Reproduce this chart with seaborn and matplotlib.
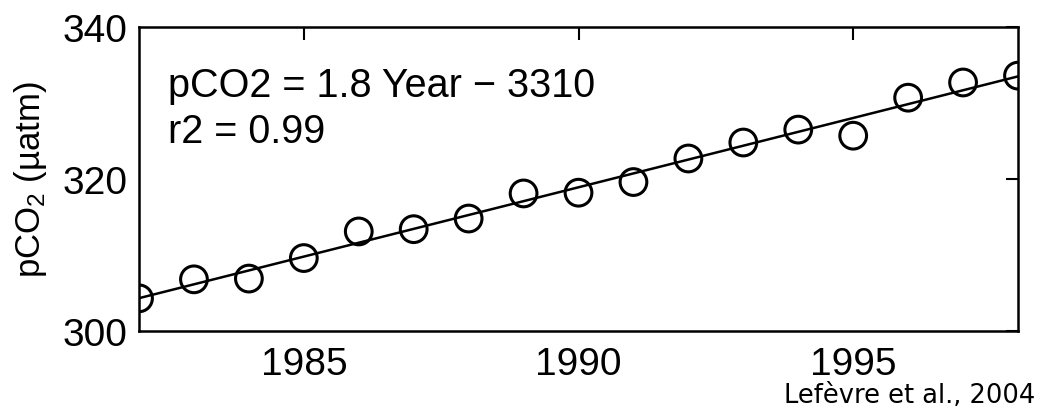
import matplotlib
matplotlib.use("Agg")
import matplotlib.pyplot as plt
import seaborn as sns
import numpy as np
import pandas as pd

years = [1982, 1983, 1984, 1985, 1986, 1987, 1988, 1989, 1990,
         1991, 1992, 1993, 1994, 1995, 1996, 1997, 1998]
pco2 = [304.3, 306.8, 306.9, 309.6, 313.1, 313.4, 314.8, 318.1, 318.2,
        319.6, 322.7, 324.8, 326.5, 325.7, 330.7, 332.7, 333.6]
xticks = [1985, 1990, 1995]
yticks = [300, 320, 340]

df = pd.DataFrame({"year": years, "pco2": pco2})

sns.set_style("white")
plt.rcParams['font.family'] = ['Liberation Sans', 'DejaVu Sans']
plt.rcParams['text.color'] = 'black'
plt.rcParams['axes.labelcolor'] = 'black'
plt.rcParams['mathtext.fontset'] = 'custom'
plt.rcParams['mathtext.rm'] = 'Liberation Sans'
plt.rcParams['mathtext.it'] = 'Liberation Sans'

fig = plt.figure(figsize=(10.39, 4.10), dpi=100)
ax = fig.add_axes([0.1338, 0.1902, 0.846, 0.7415])

sns.regplot(data=df, x="year", y="pco2", ax=ax, ci=None, color="black",
            marker="o",
            scatter_kws=dict(facecolors="none", edgecolors="black", s=370,
                             linewidths=2.2, alpha=1, zorder=3),
            line_kws=dict(linewidth=1.8, zorder=2))

ax.set_xlim(1982, 1998)
ax.set_ylim(300, 340)
ax.set_xticks(xticks)
ax.set_yticks(yticks)
ax.set_xlabel("")
ax.set_ylabel(r"pCO$_2$ (µatm)", fontsize=25, labelpad=10, color="black")

for s in ax.spines.values():
    s.set_visible(True)
    s.set_linewidth(1.8)
    s.set_color("black")

ax.tick_params(axis="both", direction="in", length=9, width=1.5,
               top=True, right=True, labelsize=28, colors="black")
ax.tick_params(axis="x", pad=11)
ax.tick_params(axis="y", pad=8)

ax.text(0.033, 0.773, "pCO2 = 1.8 Year − 3310", transform=ax.transAxes,
        fontsize=28.5, va="baseline", ha="left", color="black")
ax.text(0.033, 0.622, "r2 = 0.99", transform=ax.transAxes,
        fontsize=28.5, va="baseline", ha="left", color="black")

fig.text(0.996, 0.017, "Lefèvre et al., 2004", ha="right", va="baseline",
         fontsize=18.5, family=["DejaVu Sans"], color="black")

fig.savefig("out.png", dpi=100)
